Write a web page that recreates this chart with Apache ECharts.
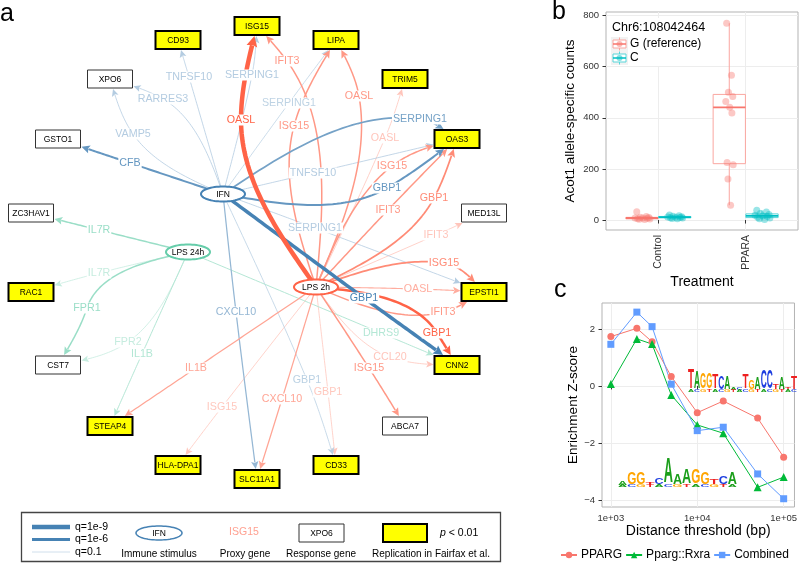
<!DOCTYPE html>
<html><head><meta charset="utf-8">
<script src="https://cdn.jsdelivr.net/npm/echarts@6/dist/echarts.min.js"></script>
<style>html,body{margin:0;padding:0;background:#fff}#c{width:800px;height:568px}</style>
</head><body><div id="c"></div>
<script>
// ================= DATA =================
// ---- panel a: network (graph layout coordinates) ----
const nodeNames = ['IFN','LPS 2h','LPS 24h','ISG15','CD93','XPO6','GSTO1','LIPA','TRIM5','OAS3','ZC3HAV1','RAC1','CST7','MED13L','EPSTI1','CNN2','STEAP4','HLA-DPA1','SLC11A1','CD33','ABCA7'];
const nodeKind = ['stimulus','stimulus','stimulus','replicated','replicated','response','response','replicated','replicated','replicated','response','replicated','response','response','replicated','replicated','replicated','replicated','replicated','replicated','response'];
const nodeX = [223,316,188,257,178,110,58,336,405,457,31,31,58,484,484,457,110,178,257,336,405];
const nodeY = [194,287,252,26,40,79,139,40,79,139,213,292,365,213,292,365,426,465,479,465,426];

const edgeFrom = ['IFN','IFN','IFN','IFN','IFN','IFN','IFN','IFN','IFN','IFN','IFN','IFN','IFN',
  'LPS 2h','LPS 2h','LPS 2h','LPS 2h','LPS 2h','LPS 2h','LPS 2h','LPS 2h','LPS 2h','LPS 2h','LPS 2h','LPS 2h','LPS 2h','LPS 2h','LPS 2h','LPS 2h','LPS 2h','LPS 2h','LPS 2h',
  'LPS 24h','LPS 24h','LPS 24h','LPS 24h','LPS 24h','LPS 24h'];
const edgeTo = ['GSTO1','XPO6','XPO6','CD93','ISG15','LIPA','OAS3','OAS3','OAS3','EPSTI1','CNN2','SLC11A1','CD33',
  'ISG15','ISG15','LIPA','LIPA','TRIM5','OAS3','OAS3','OAS3','MED13L','EPSTI1','EPSTI1','EPSTI1','CNN2','CNN2','ABCA7','CD33','SLC11A1','HLA-DPA1','STEAP4',
  'ZC3HAV1','RAC1','CST7','CST7','STEAP4','CNN2'];
const edgeGene = ['CFB','VAMP5','RARRES3','TNFSF10','SERPING1','SERPING1','SERPING1','TNFSF10','GBP1','SERPING1','GBP1','CXCL10','GBP1',
  'OASL','IFIT3','ISG15','OASL','OASL','ISG15','IFIT3','GBP1','IFIT3','ISG15','OASL','IFIT3','GBP1','CCL20','ISG15','GBP1','CXCL10','ISG15','IL1B',
  'IL7R','IL7R','FPR1','FPR2','IL1B','DHRS9'];
// -log10(q)
const edgeNegLog10Q = [4,1.5,1.5,1.5,1.5,1.2,3.5,1.5,4,1.5,7,2.5,1.3,
  9,3,3,3,1.3,3,3,3.5,1.3,3.5,2.2,3,5,1.3,3,1.2,2.5,1.2,2.5,
  3,1.3,3,1.3,2,2];
// label anchor of each edge (layout coordinates) and the edge direction there (deg, null = chord)
const edgeLabelX = [130,133,163,189,252,289,420,313,387,315,364,236,307,
  241,287,294,359,385,392,388,434,436,444,418,443,437,390,369,328,282,222,196,
  99,99,87,128,142,381];
const edgeLabelY = [163,134,99,77,75,103,119,173,188,228,298,312,380,
  120,61,126,96,138,166,210,198,235,263,289,312,333,357,368,392,399,407,368,
  230,273,308,342,354,333];
const edgeAngle = [null,-125,-150,null,null,null,8,null,-30,null,null,null,null,
  -90,-126,-75,-100,null,-38,null,-62,null,8,null,-15,58,20,null,null,null,null,null,
  null,null,108,145,null,null];

// ---- panel b ----
const treatments = ['Control','PPARA'];
const alleles = ['G (reference)','C'];
const countsControlG = [32,14,11,10,8,8,7,5,4,3,2];
const countsControlC = [20,17,15,13,12,11,10,9,8,6,5];
const countsPparaG = [770,567,500,483,464,441,419,225,216,161,58];
const countsPparaC = [38,31,26,22,19,16,14,11,8,5,2];
const countTicks = [0,200,400,600,800];

// ---- panel c ----
const distances = [1000,2000,3000,5000,10000,20000,50000,100000];
const zPPARG = [1.73,2.02,1.55,0.33,-0.94,-0.53,-1.13,-2.50];
const zPpargRxra = [0.07,1.65,1.47,-0.32,-1.37,-1.66,-3.56,-3.20];
const zCombined = [1.46,2.59,2.08,0.06,-1.57,-1.45,-3.09,-3.96];
const distTicks = [1000,10000,100000];
const zTicks = [-4,-2,0,2];

// ================= STYLE / HELPERS =================
const FONT = '"Liberation Sans", Arial, Helvetica, sans-serif';
const stimRGB = {'IFN':[70,130,180],'LPS 2h':[255,99,71],'LPS 24h':[102,205,170]};
function rgb(c){return 'rgb('+c.map(v=>Math.round(v)).join(',')+')';}
function blend(c,a){return [255-a*(255-c[0]),255-a*(255-c[1]),255-a*(255-c[2])];}
function edgeAlpha(q){return Math.min(1,0.15+0.17*q);}
function edgeWidth(q){return Math.max(0.8,0.5*q);}
function edgeColor(i){return rgb(blend(stimRGB[edgeFrom[i]],edgeAlpha(edgeNegLog10Q[i])));}
const idx = n => nodeNames.indexOf(n);
function bez(p0,p1,p2,p3,t){const m=1-t;return [m*m*m*p0[0]+3*m*m*t*p1[0]+3*m*t*t*p2[0]+t*t*t*p3[0], m*m*m*p0[1]+3*m*m*t*p1[1]+3*m*t*t*p2[1]+t*t*t*p3[1]];}
function unit(v){const n=Math.hypot(v[0],v[1])||1;return [v[0]/n,v[1]/n];}
function curvePoints(i){
  const s=idx(edgeFrom[i]), t=idx(edgeTo[i]);
  const S=[nodeX[s],nodeY[s]], T=[nodeX[t],nodeY[t]], L=[edgeLabelX[i],edgeLabelY[i]];
  let u;
  if (edgeAngle[i]===null) u=unit([T[0]-S[0],T[1]-S[1]]);
  else {const a=edgeAngle[i]*Math.PI/180; u=[Math.cos(a),Math.sin(a)];}
  const d1=Math.hypot(L[0]-S[0],L[1]-S[1]), d2=Math.hypot(T[0]-L[0],T[1]-L[1]);
  const c2=[L[0]-u[0]*d1/3, L[1]-u[1]*d1/3];
  const c3=[L[0]+u[0]*d2/3, L[1]+u[1]*d2/3];
  const a1=unit([c2[0]-S[0],c2[1]-S[1]]), a4=unit([c3[0]-T[0],c3[1]-T[1]]);
  const c1=[S[0]+a1[0]*d1/3, S[1]+a1[1]*d1/3];
  const c4=[T[0]+a4[0]*d2/3, T[1]+a4[1]*d2/3];
  const pts=[];
  for(let k=0;k<=40;k++) pts.push(bez(S,c1,c2,L,k/40));
  for(let k=1;k<=40;k++) pts.push(bez(L,c3,c4,T,k/40));
  return pts;
}
const RECT_HW=22.5, RECT_HH=9, ELL_RX=22, ELL_RY=7.5;

// draw order: faint edges first
const edgeOrder = edgeGene.map((g,i)=>i).sort((a,b)=>edgeNegLog10Q[a]-edgeNegLog10Q[b]);

function renderEdge(params, api){
  const i = edgeOrder[params.dataIndex];
  const pts = curvePoints(i).map(p=>api.coord(p));
  const t = idx(edgeTo[i]);
  const tc = api.coord([nodeX[t],nodeY[t]]);
  const ell = nodeKind[t]==='stimulus';
  const hw=(ell?ELL_RX:RECT_HW)+1, hh=(ell?ELL_RY:RECT_HH)+1;
  const inside = p=>{const dx=p[0]-tc[0], dy=p[1]-tc[1]; return ell ? (dx*dx/(hw*hw)+dy*dy/(hh*hh)<=1) : (Math.abs(dx)<=hw && Math.abs(dy)<=hh);};
  let k=pts.length-1;
  while(k>0 && inside(pts[k])) k--;
  let a=pts[k], b=pts[Math.min(k+1,pts.length-1)];
  for(let it=0;it<24;it++){const m=[(a[0]+b[0])/2,(a[1]+b[1])/2]; if(inside(m)) b=m; else a=m;}
  const tip=a;
  let j=k; while(j>0 && Math.hypot(pts[j][0]-tip[0],pts[j][1]-tip[1])<7) j--;
  const dir=unit([tip[0]-pts[j][0], tip[1]-pts[j][1]]);
  const w=edgeWidth(edgeNegLog10Q[i]), col=edgeColor(i);
  const ah=6.5+w*0.9, aw=3+w*0.55;
  const base=[tip[0]-dir[0]*ah, tip[1]-dir[1]*ah];
  const per=[-dir[1],dir[0]];
  const line=[];
  for(let q=0;q<=k;q++){ if(Math.hypot(pts[q][0]-tip[0],pts[q][1]-tip[1])>ah) line.push(pts[q]); else break; }
  line.push([base[0]+dir[0]*1,base[1]+dir[1]*1]);
  return {type:'group', children:[
    {type:'polyline', shape:{points:line}, style:{stroke:col, lineWidth:w, fill:null, lineJoin:'round'}},
    {type:'polygon', shape:{points:[tip,[base[0]+per[0]*aw,base[1]+per[1]*aw],[base[0]+per[0]*aw*0.1+dir[0]*1.5,base[1]+per[1]*aw*0.1+dir[1]*1.5],[base[0]-per[0]*aw,base[1]-per[1]*aw]]}, style:{fill:col}}
  ]};
}
function renderEdgeLabel(params, api){
  const i = edgeOrder[params.dataIndex];
  const p = api.coord([edgeLabelX[i],edgeLabelY[i]]);
  return {type:'text', x:p[0], y:p[1], style:{text:edgeGene[i], fill:edgeColor(i), font:'10.7px '+FONT, align:'center', verticalAlign:'middle', backgroundColor:'#fff', padding:[0,1]}};
}
function ellipsePts(cx,cy,rx,ry){const a=[];for(let k=0;k<64;k++){const t=k/64*Math.PI*2;a.push([cx+rx*Math.cos(t),cy+ry*Math.sin(t)]);}return a;}
function renderNode(params, api){
  const i=params.dataIndex;
  const p=api.coord([nodeX[i],nodeY[i]]);
  const kind=nodeKind[i];
  let shape;
  if(kind==='stimulus'){
    shape={type:'polygon', shape:{points:ellipsePts(p[0],p[1],ELL_RX,ELL_RY)}, style:{fill:'#fff', stroke:rgb(stimRGB[nodeNames[i]]), lineWidth:2}};
  } else {
    const rep=kind==='replicated';
    shape={type:'rect', shape:{x:p[0]-RECT_HW, y:p[1]-RECT_HH, width:RECT_HW*2, height:RECT_HH*2}, style:{fill:rep?'#ffff00':'#fff', stroke:rep?'#000':'#333', lineWidth:rep?2:1}};
  }
  return {type:'group', children:[shape,
    {type:'text', x:p[0], y:p[1]+0.5, style:{text:nodeNames[i], fill:'#000', font:'8.5px '+FONT, align:'center', verticalAlign:'middle'}}]};
}

// ---- panel b helpers ----
function quantile(sorted,p){const h=(sorted.length-1)*p, lo=Math.floor(h), hi=Math.ceil(h);return sorted[lo]+(sorted[hi]-sorted[lo])*(h-lo);}
function boxStats(vals){
  const s=vals.slice().sort((a,b)=>a-b);
  const q1=quantile(s,0.25), med=quantile(s,0.5), q3=quantile(s,0.75), iqr=q3-q1;
  const lo=s.find(v=>v>=q1-1.5*iqr), hi=[...s].reverse().find(v=>v<=q3+1.5*iqr);
  return [lo,q1,med,q3,hi];
}
const alleleRGB=[[248,118,109],[0,191,196]];
const groups=[
  {t:0,a:0,vals:countsControlG},{t:0,a:1,vals:countsControlC},
  {t:1,a:0,vals:countsPparaG},{t:1,a:1,vals:countsPparaC}];
const DODGE=0.1875, BOXHALF=0.185;
function renderBox(params, api){
  const g=groups[params.dataIndex];
  const st=boxStats(g.vals);
  const x=g.t+1+(g.a===0?-DODGE:DODGE);
  const pL=api.coord([x-BOXHALF,st[3]]), pR=api.coord([x+BOXHALF,st[1]]);
  const pMid=api.coord([x,st[2]]), pLo=api.coord([x,st[0]]), pHi=api.coord([x,st[4]]);
  const c=alleleRGB[g.a], light=rgb(blend(c,0.65)), full=rgb(c);
  return {type:'group', children:[
    {type:'line', shape:{x1:pHi[0],y1:pHi[1],x2:pHi[0],y2:pL[1]}, style:{stroke:light,lineWidth:1}},
    {type:'line', shape:{x1:pLo[0],y1:pLo[1],x2:pLo[0],y2:pR[1]}, style:{stroke:light,lineWidth:1}},
    {type:'rect', shape:{x:pL[0],y:pL[1],width:pR[0]-pL[0],height:Math.max(0.5,pR[1]-pL[1])}, style:{fill:'#fff',stroke:light,lineWidth:1}},
    {type:'line', shape:{x1:pL[0],y1:pMid[1],x2:pR[0],y2:pMid[1]}, style:{stroke:full,lineWidth:1.8}}
  ]};
}
const jitterPattern=[-0.06,0.05,-0.02,0.08,-0.08,0.01,0.06,-0.05,0.09,-0.03,0.03];
function pointsFor(a){
  const out=[];
  groups.filter(g=>g.a===a).forEach(g=>{
    const x=g.t+1+(a===0?-DODGE:DODGE);
    g.vals.forEach((v,k)=>out.push([x+jitterPattern[k%jitterPattern.length]*(g.t===1&&a===0?0.5:1),v]));
  });
  return out;
}

// ---- sequence logos (decorative) ----
const logoColors={A:'#1a9e1a',C:'#1f3fe0',G:'#ffa500',T:'#ee2020'};
const logoUpper=[['T',20],['A',17],['G',16],['G',16],['T',15],['C',13],['A',13],['A',3],['C',3],['T',14],['G',9],['A',12],['C',19],['C',18],['T',5],['A',12],['T',3],['T',13]];
const logoLower=[['A',4],['G',12],['G',12],['T',3],['C',7],['A',25],['A',10],['A',14],['G',14],['G',12],['T',5],['C',8],['A',12]];
function logoElements(letters,x0,x1,baseline){
  const cw=(x1-x0)/letters.length, els=[];
  const em={A:0.722,C:0.722,G:0.778,T:0.611};
  letters.forEach((l,k)=>{
    const cx=x0+cw*(k+0.5);
    els.push({type:'text', x:cx, y:baseline-l[1]/2, scaleX:cw/(em[l[0]]*20), scaleY:l[1]/14.3,
      style:{text:l[0], fill:logoColors[l[0]], font:'bold 20px '+FONT, align:'center', verticalAlign:'middle'}, z:5});
    els.push({type:'text', x:cx, y:baseline+1.5, scaleX:cw/(em['C']*20), scaleY:2/14.3,
      style:{text:'ACGT'[k%4], fill:logoColors['ACGT'[k%4]], font:'bold 20px '+FONT, align:'center', verticalAlign:'middle'}, z:5});
  });
  return els;
}

// ---- legend / annotation graphics ----
const g=[];
const T=(x,y,text,size,opts)=>Object.assign({type:'text',x:x,y:y,z:10,style:Object.assign({text:text,font:size+'px '+FONT,fill:'#000',align:'left',verticalAlign:'middle'},opts||{})});
g.push(T(0,14,'a',25)); g.push(T(552,12,'b',25)); g.push(T(554,290,'c',25));
// panel a legend
const blue=stimRGB['IFN'];
g.push({type:'rect',z:10,shape:{x:21.5,y:512.5,width:479,height:49},style:{fill:null,stroke:'#444',lineWidth:1.3}});
[[9,527,'q=1e-9'],[6,539.5,'q=1e-6'],[1,552,'q=0.1']].forEach(r=>{
  g.push({type:'line',z:10,shape:{x1:32,y1:r[1],x2:70,y2:r[1]},style:{stroke:rgb(blend(blue,edgeAlpha(r[0]))),lineWidth:edgeWidth(r[0])}});
  g.push(T(75,r[1],r[2],10.5));
});
g.push({type:'polygon',z:10,shape:{points:ellipsePts(159,533,23,7)},style:{fill:'#fff',stroke:rgb(blue),lineWidth:1.5}});
g.push(T(159,533.5,'IFN',8.5,{align:'center'}));
g.push(T(159,554,'Immune stimulus',10,{align:'center'}));
g.push(T(244,532,'ISG15',10.5,{align:'center',fill:rgb(blend(stimRGB['LPS 2h'],0.6))}));
g.push(T(245,554,'Proxy gene',10,{align:'center'}));
g.push({type:'rect',z:10,shape:{x:299,y:524,width:45,height:18},style:{fill:'#fff',stroke:'#333',lineWidth:1}});
g.push(T(321.5,533.5,'XPO6',8.5,{align:'center'}));
g.push(T(321,554,'Response gene',10,{align:'center'}));
g.push({type:'rect',z:10,shape:{x:383,y:524,width:44,height:18},style:{fill:'#ffff00',stroke:'#000',lineWidth:2}});
g.push({type:'text',z:10,x:440,y:533,style:{text:'{i|p} < 0.01',font:'10.5px '+FONT,fill:'#000',align:'left',verticalAlign:'middle',rich:{i:{fontStyle:'italic',fontSize:10.5,fontFamily:FONT}}}});
g.push(T(431,554,'Replication in Fairfax et al.',10,{align:'center'}));
// panel b legend (inside plot, white background)
g.push({type:'rect',z:9,shape:{x:608,y:18,width:102,height:48},style:{fill:'#fff'}});
g.push(T(612,28,'Chr6:108042464',12.5));
[0,1].forEach(a=>{
  const cy=44+a*14, c=alleleRGB[a];
  g.push({type:'rect',z:10,shape:{x:611,y:cy-7,width:17,height:14},style:{fill:'#f2f2f2'}});
  g.push({type:'line',z:10,shape:{x1:619.5,y1:cy-6.5,x2:619.5,y2:cy+6.5},style:{stroke:rgb(blend(c,0.65)),lineWidth:1}});
  g.push({type:'rect',z:10,shape:{x:613,y:cy-4,width:13,height:8},style:{fill:'#fff',stroke:rgb(blend(c,0.65)),lineWidth:1}});
  g.push({type:'line',z:10,shape:{x1:613,y1:cy,x2:626,y2:cy},style:{stroke:rgb(c),lineWidth:1.5}});
  g.push({type:'circle',z:10,shape:{cx:619.5,cy:cy,r:3},style:{fill:'rgba('+c.join(',')+',0.5)'}});
  g.push(T(630,cy,alleles[a],12));
});
logoElements(logoUpper,688,797,390).forEach(e=>g.push(e));
logoElements(logoLower,618,737,485).forEach(e=>g.push(e));

// ================= CHART =================
const chart=echarts.init(document.getElementById('c'),null,{renderer:'canvas',width:800,height:568});
const axisText={color:'#333',fontFamily:FONT};
const option={
  animation:false,
  backgroundColor:'#fff',
  textStyle:{fontFamily:FONT},
  grid:[
    {left:0,top:0,width:800,height:568,show:false},
    {left:606,top:12,width:192,height:218,show:true,borderColor:'#b3b3b3',borderWidth:1,backgroundColor:'#fff'},
    {left:602,top:303,width:195,height:204,show:true,borderColor:'#b3b3b3',borderWidth:1,backgroundColor:'#fff'}
  ],
  xAxis:[
    {gridIndex:0,type:'value',min:0,max:800,show:false},
    {gridIndex:1,type:'value',min:0.4,max:2.6,
      axisLine:{show:false},
      axisTick:{customValues:[1,2],length:3.5,lineStyle:{color:'#333'}},
      axisLabel:Object.assign({customValues:[1,2],formatter:v=>treatments[Math.round(v)-1],rotate:90,fontSize:10.5,margin:5},axisText),
      splitLine:{show:true,lineStyle:{color:'#ededed'}},
      name:'Treatment',nameLocation:'middle',nameGap:45,nameTextStyle:{fontSize:14,color:'#000',fontFamily:FONT}},
    {gridIndex:2,type:'log',min:790,max:133400,
      axisLine:{show:false},
      axisTick:{customValues:distTicks,length:3.5,lineStyle:{color:'#333'}},
      axisLabel:Object.assign({customValues:distTicks,formatter:v=>'1e+0'+Math.round(Math.log10(v)),fontSize:9.5,margin:6},axisText),
      splitLine:{show:true,lineStyle:{color:'#ededed'}},minorSplitLine:{show:false},
      name:'Distance threshold (bp)',nameLocation:'middle',nameGap:12,nameTextStyle:{fontSize:14,color:'#000',fontFamily:FONT}}
  ],
  yAxis:[
    {gridIndex:0,type:'value',min:0,max:568,inverse:true,show:false},
    {gridIndex:1,type:'value',min:-39,max:814,
      axisLine:{show:false},
      axisTick:{show:true,customValues:countTicks,length:3.5,lineStyle:{color:'#333'}},
      axisLabel:Object.assign({customValues:countTicks,fontSize:9.5,margin:7},axisText),
      splitLine:{show:true,lineStyle:{color:'#ededed'}},
      name:'Acot1 allele-specific counts',nameLocation:'middle',nameGap:29,nameTextStyle:{fontSize:13.5,color:'#000',fontFamily:FONT}},
    {gridIndex:2,type:'value',min:-4.25,max:2.91,
      axisLine:{show:false},
      axisTick:{show:true,customValues:zTicks,length:3.5,lineStyle:{color:'#333'}},
      axisLabel:Object.assign({customValues:zTicks,formatter:v=>v<0?'\u2212'+Math.abs(v):String(v),fontSize:9.5,margin:7},axisText),
      splitLine:{show:true,lineStyle:{color:'#ededed'}},
      name:'Enrichment Z-score',nameLocation:'middle',nameGap:22,nameTextStyle:{fontSize:13.5,color:'#000',fontFamily:FONT}}
  ],
  legend:{data:['PPARG','Pparg::Rxra','Combined'],left:560,top:549,width:240,padding:0,itemGap:3,itemWidth:16,itemHeight:8,
    textStyle:{fontSize:12,color:'#000',fontFamily:FONT,padding:[0,0,0,-1]}},
  graphic:{elements:g},
  series:[
    {type:'custom',name:'edges',xAxisIndex:0,yAxisIndex:0,z:2,silent:true,clip:false,
      data:edgeOrder.map(i=>[edgeLabelX[i],edgeLabelY[i]]),renderItem:renderEdge},
    {type:'custom',name:'edgeLabels',xAxisIndex:0,yAxisIndex:0,z:3,silent:true,clip:false,
      data:edgeOrder.map(i=>[edgeLabelX[i],edgeLabelY[i]]),renderItem:renderEdgeLabel},
    {type:'custom',name:'nodes',xAxisIndex:0,yAxisIndex:0,z:4,silent:true,clip:false,
      data:nodeNames.map((n,i)=>[nodeX[i],nodeY[i]]),renderItem:renderNode},
    {type:'custom',name:'boxes',xAxisIndex:1,yAxisIndex:1,z:2,silent:true,
      data:groups.map(gr=>[gr.t+1,gr.vals[0]]),renderItem:renderBox},
    {type:'scatter',name:alleles[0],xAxisIndex:1,yAxisIndex:1,z:3,symbolSize:7,
      itemStyle:{color:'rgba(248,118,109,0.5)'},data:pointsFor(0)},
    {type:'scatter',name:alleles[1],xAxisIndex:1,yAxisIndex:1,z:3,symbolSize:7,
      itemStyle:{color:'rgba(0,191,196,0.5)'},data:pointsFor(1)},
    {type:'line',name:'PPARG',xAxisIndex:2,yAxisIndex:2,symbol:'circle',symbolSize:7,
      lineStyle:{width:1,color:'#F8766D'},itemStyle:{color:'#F8766D'},
      data:distances.map((d,k)=>[d,zPPARG[k]])},
    {type:'line',name:'Pparg::Rxra',xAxisIndex:2,yAxisIndex:2,symbol:'triangle',symbolSize:8,
      lineStyle:{width:1,color:'#00BA38'},itemStyle:{color:'#00BA38'},
      data:distances.map((d,k)=>[d,zPpargRxra[k]])},
    {type:'line',name:'Combined',xAxisIndex:2,yAxisIndex:2,symbol:'rect',symbolSize:7,
      lineStyle:{width:1,color:'#619CFF'},itemStyle:{color:'#619CFF'},
      data:distances.map((d,k)=>[d,zCombined[k]])}
  ]
};
chart.setOption(option);
</script></body></html>
